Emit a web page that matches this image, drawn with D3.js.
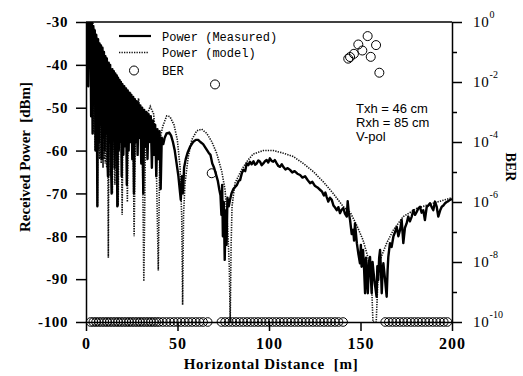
<!DOCTYPE html>
<html>
<head>
<meta charset="utf-8">
<script src="https://cdn.jsdelivr.net/npm/d3@7"></script>
<style>
  body { margin: 0; background: #fff; }
  svg { display: block; }
</style>
</head>
<body>
<div id="chart"></div>
<script>
// axis ticks
const xTicks = [0, 50, 100, 150, 200];
const yTicks = [-100, -90, -80, -70, -60, -50, -40, -30];
const berExponents = [0, -2, -4, -6, -8, -10];
const berMinorExponents = [-1, -3, -5, -7, -9];

// measured received power [distance m, dBm]
const measured = [
  [0, -22], [0.4, -34], [0.8, -24], [1.2, -45], [1.6, -27], [2.0, -38], [2.4, -28], [2.8, -52],
  [3.2, -30], [3.6, -56], [4.0, -31], [4.4, -48], [4.8, -32], [5.2, -60], [5.6, -33], [6.0, -55],
  [6.2, -73], [6.6, -34], [7.0, -58], [7.4, -35], [7.8, -54], [8.2, -35.5], [8.6, -62], [9.0, -36],
  [9.4, -57], [9.8, -37], [10.2, -60], [10.6, -38], [11.0, -56], [11.4, -38.5], [11.8, -63], [12.0, -66],
  [12.4, -39.5], [12.8, -58], [13.2, -40], [13.6, -61], [14.0, -70], [14.4, -41], [14.8, -57], [15.2, -41.5],
  [15.6, -64], [16.0, -42], [16.4, -59], [16.8, -42.5], [17.1, -73], [17.5, -43], [17.9, -60], [18.3, -43.5],
  [18.7, -58], [19.1, -44], [19.5, -66], [19.9, -44.5], [20.4, -61], [20.9, -45], [21.4, -59], [21.9, -45.5],
  [22.3, -68], [22.8, -46], [23.3, -60], [23.8, -46.5], [24.3, -58], [24.8, -47], [25.3, -62], [25.8, -47.5],
  [26.2, -70], [26.7, -48], [27.2, -58], [27.7, -48.5], [28.2, -61], [28.7, -49], [29.2, -57], [29.7, -49.5],
  [30.2, -63], [30.7, -50], [31.3, -70], [31.8, -50.5], [32.4, -59], [33.0, -51], [33.6, -62], [34.2, -51.5],
  [34.8, -58], [35.4, -52], [36.0, -64], [36.6, -53], [37.2, -61], [37.8, -54], [38.4, -66], [39.0, -55],
  [39.6, -62], [40.2, -55.5], [40.8, -69], [41.4, -57], [42.2, -58.5], [43.0, -57], [44.0, -56], [45.5, -55.8],
  [46.5, -56.5], [47.5, -58], [48.5, -60], [49.5, -63], [50.5, -66], [51.2, -69], [51.8, -71.5], [52.4, -66],
  [53.0, -70], [53.6, -64], [54.5, -62], [55.5, -60.5], [57.0, -59], [58.5, -58], [60.0, -57.5], [61.3, -57.5],
  [62.5, -58], [64.0, -58.5], [65.5, -59.5], [67.0, -60.5], [68.0, -61], [69.0, -63], [70.0, -64], [71.0, -65.5],
  [72.0, -67], [72.8, -69], [73.5, -70.5], [74.0, -75], [74.4, -68], [74.8, -80], [75.3, -72], [75.8, -85.5],
  [76.3, -74], [76.8, -82], [77.3, -71], [78.0, -73], [78.7, -71.5], [79.5, -70], [80.5, -69], [81.5, -68.5],
  [82.5, -68], [83.5, -67], [84.2, -66.9], [85.2, -65.2], [86, -64.5], [87, -64.8], [87.8, -63], [88.7, -63.4],
  [89.6, -62.6], [90.5, -63.2], [91.5, -62.5], [92.4, -63.3], [93.3, -63], [94.2, -62.3], [95.1, -62.6], [96, -63.4],
  [96.9, -63], [97.8, -62.5], [98.7, -62.2], [99.6, -62.8], [100.5, -61.8], [101.4, -62.4], [102.3, -62.6], [103.2, -62.2],
  [104.2, -63], [105.1, -63.6], [106, -63.8], [107, -63.2], [108, -63.9], [109, -64.4], [110.2, -64.1], [111.5, -64.5],
  [112.7, -65.1], [114, -64.8], [115.5, -65.4], [117, -65.7], [118.3, -66.3], [119.7, -66], [121, -66.8], [122.4, -67.6],
  [123.7, -67.3], [125, -68.2], [126.5, -68.6], [128, -69.2], [129, -69.6], [130, -70.5], [130.8, -69.8], [131.5, -70.8],
  [132.4, -71.9], [133.3, -71], [134.3, -71.5], [135.2, -72.8], [136.1, -73.3], [137, -73.9], [137.9, -73.2], [138.8, -74.6],
  [139.7, -73.8], [140.6, -73.4], [141.5, -74.7], [142.5, -75.4], [143, -71.8], [143.6, -74.5], [144.3, -76.2], [145.2, -79.5],
  [146, -78.5], [146.5, -81], [147, -77], [148, -81.6], [148.8, -84], [149.7, -86.3], [150.2, -82], [150.6, -87.1],
  [151.4, -83.2], [152, -88], [152.5, -93.3], [153, -85], [153.4, -87.9], [154, -93.3], [154.6, -86], [155.2, -84.8],
  [155.7, -90], [156.1, -93.3], [156.6, -86], [157, -87.9], [157.8, -91], [158.8, -94.1], [159.2, -87], [159.7, -90.2],
  [160.2, -85], [160.7, -83.2], [161.2, -88], [161.6, -93.3], [162.1, -88], [162.5, -86.3], [163.4, -90], [164.3, -94.1],
  [164.8, -88], [165.2, -84.8], [165.7, -83], [166.1, -81.6], [167, -82.5], [168, -80], [168.9, -79], [169.8, -77.8],
  [170.7, -80], [171.6, -78.5], [172.5, -76.2], [173.4, -81.6], [174.3, -78], [175.2, -77], [176.1, -75.4], [177, -76.5],
  [178, -75.4], [178.9, -73.9], [179.8, -75], [180.7, -74.3], [181.6, -73.5], [182.5, -73.1], [183.4, -74.5], [184.3, -73.9],
  [185.2, -76.2], [186.2, -73.1], [187.1, -72.8], [188, -72.3], [188.9, -73.2], [189.8, -73.9], [190.7, -71.9], [191.6, -73],
  [192.5, -75.4], [193.5, -74], [194.4, -73.1], [195.3, -72.8], [196.2, -72.3], [197.1, -72], [198, -71.8], [198.9, -71.5],
  [200, -71.3]
];

// model received power [distance m, dBm]
const model = [
  [0, -18], [1, -22], [2, -25], [3, -28], [3.6, -29.5], [4.0, -30.7], [4.3, -56], [4.65, -31.6],
  [5.0, -60], [5.3, -32.6], [5.6, -58], [5.95, -33.6], [6.3, -73], [6.6, -34.5], [6.9, -60], [7.2, -35.3],
  [7.5, -62], [7.7, -35.9], [7.9, -58], [8.1, -36.4], [8.3, -63], [8.55, -36.9], [8.8, -60], [9.05, -37.4],
  [9.3, -64], [9.6, -38.1], [9.9, -62], [10.2, -38.8], [10.5, -63], [10.9, -39.4], [11.3, -64], [11.7, -40],
  [12.2, -85], [12.6, -40.7], [13.2, -66], [13.7, -41.4], [14.4, -70], [15.0, -42.2], [15.8, -68], [16.6, -43.1],
  [17.3, -54], [17.6, -73], [17.9, -54], [18.6, -44], [19.35, -55], [19.75, -75], [20.15, -54], [21.1, -45.1],
  [22.1, -55], [22.6, -72], [23.1, -55], [24.3, -46.4], [25.7, -56], [26.3, -80], [27.0, -55], [28.7, -47.8],
  [30.8, -58], [31.6, -90.5], [32.5, -58], [33, -52], [35.1, -49.7], [37, -51.5], [38.2, -58], [39.5, -88],
  [40.4, -57.5], [41.9, -54.4], [44.1, -51.9], [45.9, -52.1], [48.1, -54], [49.9, -57.5], [51.4, -63.8], [52.3, -75.4],
  [52.8, -96], [53.3, -75], [54.1, -67.6], [55.9, -61.4], [57.8, -57.5], [60.5, -55.4], [63.2, -55], [66, -56],
  [68.7, -57.9], [71.4, -60.6], [74.2, -64.9], [76, -69.2], [77.4, -77.8], [78.3, -87], [78.8, -100], [79.3, -82],
  [79.8, -73], [81.4, -67.6], [85, -64.5], [88.2, -62.4], [91.4, -60.8], [96.9, -60], [102.4, -60], [107.8, -60.6],
  [113.3, -61.4], [118.7, -63], [124.2, -64.9], [129.7, -67.3], [135.1, -70], [140.6, -73.1], [144.5, -74.5], [148, -77.5],
  [151.4, -80.9], [154, -84.8], [156, -90.2], [156.8, -100], [158.6, -100], [159.5, -90], [160.7, -85.5], [164.3, -81.6],
  [168, -78.5], [173.4, -75.4], [180.7, -73.5], [189.6, -72.3], [200, -71]
];

// BER values above the floor [distance m, BER]
const berPoints = [
  [68.7, 9.1e-6], [70.5, 8.3e-3], [143.3, 6.0e-2], [144.3, 6.8e-2], [146.4, 8.7e-2], [148.8, 0.178],
  [151, 0.112], [153.9, 0.339], [155.6, 0.069], [158.5, 0.17], [160.3, 0.0204]
];

// error free distances plotted at the 1e-10 floor
const berFloor = 1e-10;
const berFloorDist = [
  2.5, 4, 5.5, 7, 8.5, 10, 11.5, 13, 14.5, 16, 17.5, 19, 20.5, 22, 23.5, 25, 26.5, 28, 29.5, 31,
  32.5, 34, 35.5, 37, 38.5, 40, 42, 44, 46, 48, 50, 52, 54, 56, 58, 60, 62, 64, 66.5,
  74, 76, 78, 80, 82, 84, 86, 88, 90, 92, 94, 96, 98, 100, 102, 104, 106, 108, 110, 112, 114, 116,
  118, 120, 122, 124, 126, 128, 130, 132, 134, 136, 138, 140.5,
  163.5, 165.5, 167.5, 169.5, 171.5, 173.5, 175.5, 177.5, 179.5, 181.5, 183.5, 185.5, 187.5, 189.5,
  191.5, 193.5, 195.5, 197.5
];

const annotation = ['Txh = 46 cm', 'Rxh = 85 cm', 'V-pol'];

const width = 523, height = 376;
const margin = {top: 22, right: 71, bottom: 54, left: 86};
const innerW = width - margin.left - margin.right;
const innerH = height - margin.top - margin.bottom;
const serif = '"Liberation Serif", "Times New Roman", serif';

const svg = d3.select('#chart').append('svg')
    .attr('width', width)
    .attr('height', height)
    .style('background', '#fff');

const g = svg.append('g')
    .attr('transform', `translate(${margin.left}, ${margin.top})`);

const xScale = d3.scaleLinear().domain([0, 200]).range([0, innerW]);
const yScale = d3.scaleLinear().domain([-100, -30]).range([innerH, 0]);
const berScale = d3.scaleLog().domain([1e-10, 1]).range([innerH, 0]);

g.append('clipPath').attr('id', 'plot-clip')
    .append('rect').attr('width', innerW).attr('height', innerH);

// curves
const line = d3.line()
    .x(function(d) { return xScale(d[0]); })
    .y(function(d) { return yScale(d[1]); });

g.append('path')
    .datum(model)
    .attr('clip-path', 'url(#plot-clip)')
    .attr('fill', 'none')
    .attr('stroke', '#111')
    .attr('stroke-width', 1.6)
    .attr('stroke-dasharray', '1.3,1.2')
    .attr('d', line);

g.append('path')
    .datum(measured)
    .attr('clip-path', 'url(#plot-clip)')
    .attr('fill', 'none')
    .attr('stroke', '#000')
    .attr('stroke-width', 2.4)
    .attr('stroke-linejoin', 'round')
    .attr('d', line);

// BER circles
g.selectAll('.ber-floor')
    .data(berFloorDist)
    .join('circle')
    .attr('class', 'ber-floor')
    .attr('cx', function(d) { return xScale(d); })
    .attr('cy', berScale(berFloor))
    .attr('r', 4.3)
    .attr('fill', 'none')
    .attr('stroke', '#000')
    .attr('stroke-width', 1);

g.selectAll('.ber-pt')
    .data(berPoints)
    .join('circle')
    .attr('class', 'ber-pt')
    .attr('cx', function(d) { return xScale(d[0]); })
    .attr('cy', function(d) { return berScale(d[1]); })
    .attr('r', 4.5)
    .attr('fill', 'none')
    .attr('stroke', '#000')
    .attr('stroke-width', 1);

// axes
const xAxis = g.append('g')
    .attr('transform', `translate(0, ${innerH})`)
    .call(d3.axisBottom(xScale).tickValues(xTicks).tickSize(9).tickSizeOuter(0).tickPadding(7)
        .tickFormat(function(d) { return String(d); }));
xAxis.selectAll('text')
    .style('font-family', serif).style('font-size', '16px').style('font-weight', 'bold')
    .style('letter-spacing', '1px').attr('fill', '#000');

const yAxis = g.append('g')
    .call(d3.axisLeft(yScale).tickValues(yTicks).tickSize(10).tickSizeOuter(0).tickPadding(8)
        .tickFormat(function(d) { return String(d); }));
yAxis.selectAll('text')
    .style('font-family', serif).style('font-size', '15px').style('font-weight', 'bold')
    .style('letter-spacing', '0.6px').attr('fill', '#000');

const rAxis = g.append('g')
    .attr('transform', `translate(${innerW}, 0)`)
    .call(d3.axisRight(berScale).tickValues(berExponents.map(function(e) { return Math.pow(10, e); }))
        .tickSize(10).tickSizeOuter(0).tickFormat(''));
g.append('g')
    .attr('transform', `translate(${innerW}, 0)`)
    .call(d3.axisRight(berScale).tickValues(berMinorExponents.map(function(e) { return Math.pow(10, e); }))
        .tickSize(5).tickSizeOuter(0).tickFormat(''))
    .select('.domain').remove();

rAxis.selectAll('.ber-label')
    .data(berExponents)
    .join('text')
    .attr('class', 'ber-label')
    .attr('x', 21)
    .attr('y', function(e) { return berScale(Math.pow(10, e)); })
    .attr('dy', '0.3em')
    .style('font-family', serif)
    .style('font-size', '15px')
    .attr('fill', '#000')
    .each(function(e) {
        let t = d3.select(this);
        t.append('tspan').style('letter-spacing', '0.8px').text('10');
        t.append('tspan').attr('dy', '-0.85em').style('font-size', '10px').text(String(e));
    });

svg.selectAll('.domain, .tick line').attr('stroke', '#000').attr('stroke-width', 1.5);

// top frame line
g.append('line')
    .attr('x1', 0).attr('x2', innerW).attr('y1', 0).attr('y2', 0)
    .attr('stroke', '#000').attr('stroke-width', 1.5);

// axis titles
svg.append('text')
    .attr('x', margin.left + innerW / 2 + 2)
    .attr('y', 369)
    .attr('text-anchor', 'middle')
    .style('font-family', serif).style('font-size', '15px').style('font-weight', 'bold')
    .style('letter-spacing', '0.7px')
    .style('white-space', 'pre')
    .text('Horizontal Distance  [m]');

svg.append('text')
    .attr('transform', 'translate(30, 157) rotate(-90)')
    .attr('text-anchor', 'middle')
    .style('font-family', serif).style('font-size', '15px').style('font-weight', 'bold')
    .style('white-space', 'pre')
    .text('Received Power  [dBm]');

svg.append('text')
    .attr('transform', 'translate(506, 167) rotate(90)')
    .attr('text-anchor', 'middle')
    .style('font-family', serif).style('font-size', '14px').style('font-weight', 'bold')
    .text('BER');

// legend
const legend = svg.append('g').attr('class', 'legend');
const mono = '"Liberation Mono", "Courier New", monospace';
legend.append('line')
    .attr('x1', 119).attr('x2', 151).attr('y1', 36).attr('y2', 36)
    .attr('stroke', '#000').attr('stroke-width', 2.2);
legend.append('line')
    .attr('x1', 119).attr('x2', 149).attr('y1', 52.5).attr('y2', 52.5)
    .attr('stroke', '#111').attr('stroke-width', 1.6).attr('stroke-dasharray', '1.3,1.2');
legend.append('circle')
    .attr('cx', 134).attr('cy', 70.5).attr('r', 4.5)
    .attr('fill', 'none').attr('stroke', '#000').attr('stroke-width', 1);
[['Power (Measured)', 40.5], ['Power (model)', 57], ['BER', 74.5]].forEach(function(d) {
    legend.append('text')
        .attr('x', 162).attr('y', d[1])
        .style('font-family', mono).style('font-size', '12px')
        .style('white-space', 'pre')
        .text(d[0]);
});

// annotation
svg.selectAll('.note')
    .data(annotation)
    .join('text')
    .attr('class', 'note')
    .attr('x', 356)
    .attr('y', function(d, i) { return 112.5 + i * 14.3; })
    .style('font-family', '"Liberation Sans", Arial, sans-serif')
    .style('font-size', '13px')
    .text(function(d) { return d; });
</script>
</body>
</html>
